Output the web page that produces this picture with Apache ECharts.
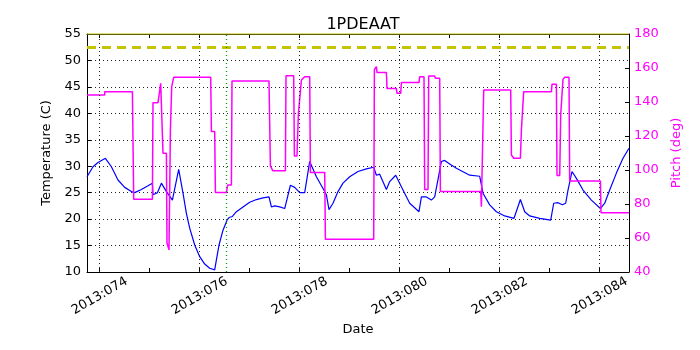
<!DOCTYPE html>
<html>
<head>
<meta charset="utf-8">
<script src="https://cdn.jsdelivr.net/npm/echarts@6/dist/echarts.min.js"></script>
<style>
  html, body { margin: 0; padding: 0; background: #fff; }
  #main { width: 700px; height: 350px; }
</style>
</head>
<body>
<div id="main"></div>
<script>
// day-of-year 2013 for x
var xMin = 73.746, xMax = 84.586;
var dayTicks = [74, 75, 76, 77, 78, 79, 80, 81, 82, 83, 84];
var dayLabels = [74, 76, 78, 80, 82, 84];
var tempLimit = 52.5;
var tempTop = 55;
var eventDay = 76.534;

// temperature (C) [day, value]
var tempData = [
  [73.746, 28.0], [73.866, 29.9], [73.966, 30.7], [74.114, 31.5], [74.234, 29.9],
  [74.366, 27.4], [74.50, 26.0], [74.634, 25.2], [74.70, 25.0], [74.834, 25.6],
  [74.966, 26.3], [75.054, 26.8], [75.066, 24.6], [75.154, 25.0], [75.234, 26.8],
  [75.334, 25.2], [75.454, 23.6], [75.58, 29.4], [75.666, 24.9], [75.734, 21.1],
  [75.80, 18.3], [75.90, 15.1], [76.00, 12.9], [76.10, 11.5], [76.20, 10.7],
  [76.30, 10.4], [76.334, 12.3], [76.386, 15.1], [76.466, 17.9], [76.546, 19.8],
  [76.586, 20.3], [76.654, 20.5], [76.734, 21.4], [76.866, 22.3], [77.00, 23.2],
  [77.134, 23.7], [77.266, 24.0], [77.386, 24.2], [77.434, 22.3], [77.50, 22.5],
  [77.60, 22.3], [77.70, 22.0], [77.814, 26.4], [77.90, 26.0], [78.0, 25.0],
  [78.10, 25.0], [78.20, 30.9], [78.334, 28.0], [78.466, 25.8], [78.534, 24.6],
  [78.586, 21.8], [78.666, 23.0], [78.766, 25.2], [78.866, 26.8], [79.00, 28.0],
  [79.166, 29.0], [79.334, 29.5], [79.48, 29.8], [79.534, 28.3], [79.60, 28.5],
  [79.734, 25.6], [79.80, 27.1], [79.92, 28.3], [80.066, 25.5], [80.20, 23.0],
  [80.386, 21.4], [80.434, 24.2], [80.534, 24.2], [80.634, 23.6], [80.70, 24.2],
  [80.834, 30.9], [80.90, 31.1], [81.00, 30.4], [81.134, 29.6], [81.40, 28.3],
  [81.60, 28.1], [81.666, 24.9], [81.80, 22.7], [81.934, 21.4], [82.10, 20.6],
  [82.286, 20.15], [82.414, 23.7], [82.50, 21.4], [82.60, 20.6], [82.80, 20.15],
  [83.02, 19.8], [83.08, 23.0], [83.166, 23.1], [83.254, 22.7], [83.32, 23.0],
  [83.366, 25.5], [83.446, 29.0], [83.534, 27.7], [83.666, 25.5], [83.834, 23.6],
  [84.014, 22.0], [84.10, 23.0], [84.20, 25.5], [84.334, 28.7], [84.466, 31.5],
  [84.586, 33.4]
];

// pitch (deg) [day, value]
var pitchData = [
  [73.746, 144.1], [74.10, 144.1], [74.10, 146.1], [74.654, 146.1], [74.68, 82.8],
  [75.054, 82.8], [75.066, 139.6], [75.166, 139.6], [75.22, 151], [75.254, 151],
  [75.266, 109.8], [75.334, 109.8], [75.346, 56.9], [75.386, 53], [75.414, 123.5],
  [75.44, 149], [75.48, 154.5], [76.22, 154.5], [76.234, 122.6], [76.30, 122.6],
  [76.314, 86.7], [76.534, 86.7], [76.56, 91.2], [76.634, 91.2], [76.646, 152.4],
  [77.386, 152.4], [77.414, 102.4], [77.46, 99.6], [77.714, 99.6], [77.726, 155.5],
  [77.88, 155.5], [77.894, 108.2], [77.946, 108.2], [77.974, 133.3], [78.034, 152.9],
  [78.10, 154.9], [78.20, 154.9], [78.214, 98.6], [78.50, 98.6], [78.514, 59.2],
  [79.48, 59.2], [79.494, 159.2], [79.534, 160.8], [79.546, 157.3], [79.734, 157.3],
  [79.746, 148], [79.934, 148], [79.946, 145.1], [80.02, 145.1], [80.034, 151.4],
  [80.386, 151.4], [80.40, 154.9], [80.486, 154.9], [80.50, 88.6], [80.566, 88.6],
  [80.58, 155.3], [80.70, 155.3], [80.714, 153.9], [80.80, 153.9], [80.814, 87.4],
  [81.62, 87.4], [81.634, 78.4], [81.666, 78.4], [81.68, 147.1], [82.22, 147.1],
  [82.234, 108.8], [82.28, 106.9], [82.414, 106.9], [82.434, 123.5], [82.48, 146.1],
  [83.034, 146.1], [83.046, 150.4], [83.134, 150.4], [83.146, 96.7], [83.20, 96.7],
  [83.22, 132.4], [83.266, 153.3], [83.30, 154.5], [83.386, 154.5], [83.40, 93.5],
  [84.014, 93.5], [84.026, 74.9], [84.586, 74.9]
];

var font = 'DejaVu Sans';
var chart = echarts.init(document.getElementById('main'));

function dayFmt(v) {
  return '2013:' + String(Math.round(v)).padStart(3, '0');
}

chart.setOption({
  animation: false,
  textStyle: { fontFamily: font },
  title: {
    text: '1PDEAAT',
    left: 358,
    top: 12,
    textAlign: 'center',
    textStyle: { fontFamily: font, fontSize: 16, fontWeight: 'normal', color: '#000' }
  },
  grid: { left: 87, right: 71, top: 34, bottom: 78, containLabel: false },
  xAxis: [
    {
      type: 'value',
      position: 'bottom',
      min: xMin,
      max: xMax,
      name: 'Date',
      nameLocation: 'middle',
      nameGap: 50,
      nameTextStyle: { fontFamily: font, fontSize: 13, color: '#000' },
      axisLine: { lineStyle: { color: '#000', width: 1 } },
      axisTick: { inside: true, length: 4, customValues: dayTicks, lineStyle: { color: '#000' } },
      axisLabel: {
        customValues: dayLabels,
        formatter: dayFmt,
        rotate: 30,
        align: 'center',
        verticalAlign: 'middle',
        margin: 24,
        fontFamily: font,
        fontSize: 13,
        color: '#000'
      },
      splitLine: { show: false }
    },
    {
      type: 'value',
      position: 'top',
      min: xMin,
      max: xMax,
      axisLine: { lineStyle: { color: '#000', width: 1 } },
      axisTick: { inside: true, length: 4, customValues: dayTicks, lineStyle: { color: '#000' } },
      axisLabel: { show: false },
      splitLine: { show: false }
    }
  ],
  yAxis: [
    {
      type: 'value',
      position: 'left',
      min: 10,
      max: 55,
      interval: 5,
      name: 'Temperature (C)',
      nameLocation: 'middle',
      nameRotate: 90,
      nameGap: 30,
      nameTextStyle: { fontFamily: font, fontSize: 13, color: '#000' },
      axisLine: { show: true, lineStyle: { color: '#000', width: 1 } },
      axisTick: { inside: true, length: 4, lineStyle: { color: '#000' } },
      axisLabel: { margin: 6, fontFamily: font, fontSize: 13, color: '#000' },
      splitLine: { show: true, lineStyle: { color: '#222', width: 1, type: [1, 3] } }
    },
    {
      type: 'value',
      position: 'right',
      min: 40,
      max: 180,
      interval: 20,
      name: 'Pitch (deg)',
      nameLocation: 'middle',
      nameRotate: 90,
      nameGap: 38,
      nameTextStyle: { fontFamily: font, fontSize: 13, color: '#ff00ff' },
      axisLine: { show: true, lineStyle: { color: '#000', width: 1 } },
      axisTick: { inside: true, length: 4, lineStyle: { color: '#000' } },
      axisLabel: { margin: 5, fontFamily: font, fontSize: 13, color: '#ff00ff' },
      splitLine: { show: false }
    }
  ],
  series: [
    {
      name: 'temp',
      type: 'line',
      xAxisIndex: 0,
      yAxisIndex: 0,
      data: tempData,
      showSymbol: false,
      lineStyle: { color: '#0000ff', width: 1.2 },
      markLine: {
        silent: true,
        symbol: 'none',
        label: { show: false },
        data: dayLabels.map(function (d) {
          return { xAxis: d, lineStyle: { color: '#222', width: 1, type: [1, 3] } };
        }).concat([
          { yAxis: tempLimit, lineStyle: { color: '#c4c400', width: 3, type: [9, 6] } },
          { xAxis: eventDay, lineStyle: { color: '#00a000', width: 1.3, type: [1, 3] } }
        ])
      }
    },
    {
      name: 'pitch',
      type: 'line',
      xAxisIndex: 0,
      yAxisIndex: 1,
      data: pitchData,
      showSymbol: false,
      lineStyle: { color: '#ff00ff', width: 1.5 }
    },
    {
      name: 'top',
      type: 'line',
      xAxisIndex: 0,
      yAxisIndex: 0,
      clip: false,
      data: [[xMin, tempTop], [xMax, tempTop]],
      showSymbol: false,
      lineStyle: { color: '#bfbf00', width: 1 }
    }
  ]
});
</script>
</body>
</html>
